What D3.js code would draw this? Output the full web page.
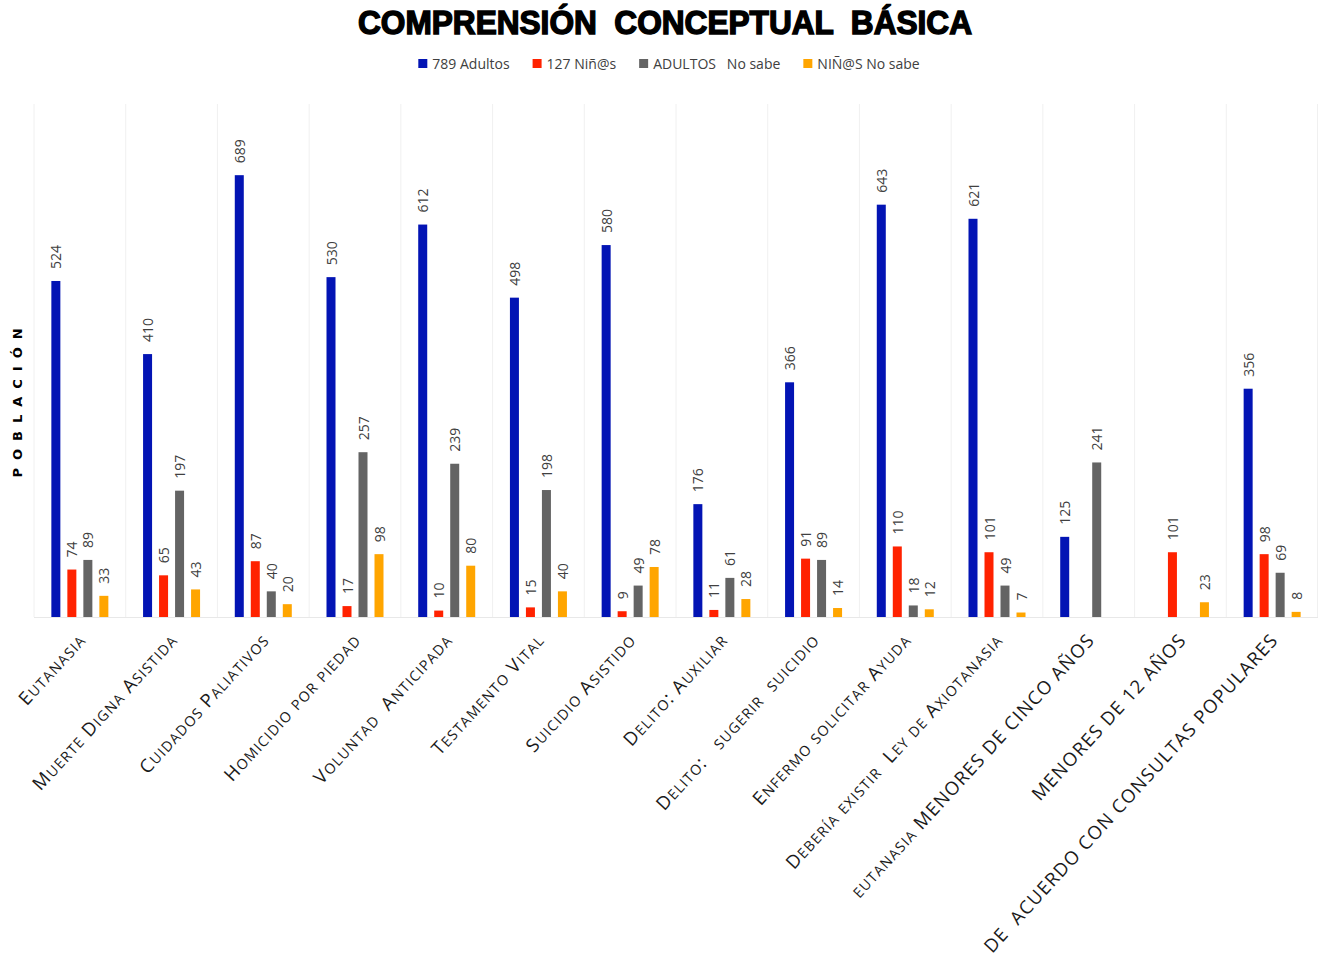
<!DOCTYPE html>
<html>
<head>
<meta charset="utf-8">
<script src="https://cdn.jsdelivr.net/npm/d3@7"></script>
<style>
  html, body { margin: 0; padding: 0; background: #ffffff; }
  svg { display: block; }
</style>
</head>
<body>
<svg id="chart" width="1318" height="962"></svg>
<script>
// Categories along the x axis (lowercase letters are drawn as small capitals)
const categories = [
  "Eutanasia",
  "Muerte Digna Asistida",
  "Cuidados Paliativos",
  "Homicidio por piedad",
  "Voluntad  Anticipada",
  "Testamento Vital",
  "Suicidio Asistido",
  "Delito: Auxiliar",
  "Delito:   sugerir  suicidio",
  "Enfermo solicitar Ayuda",
  "Debería existir  Ley de Axiotanasia",
  "eutanasia MENORES DE CINCO AÑOS",
  "MENORES DE 12 AÑOS",
  "DE  ACUERDO CON CONSULTAS POPULARES"
];

// Series values (null = no bar)
const adultos       = [524, 410, 689, 530, 612, 498, 580, 176, 366, 643, 621, 125, null, 356];
const ninos         = [74, 65, 87, 17, 10, 15, 9, 11, 91, 110, 101, null, 101, 98];
const adultosNoSabe = [89, 197, 40, 257, 239, 198, 49, 61, 89, 18, 49, 241, null, 69];
const ninosNoSabe   = [33, 43, 20, 98, 80, 40, 78, 28, 14, 12, 7, null, 23, 8];

const seriesNames  = ["789 Adultos", "127 Niñ@s", "ADULTOS   No sabe", "NIÑ@S No sabe"];
const seriesValues = [adultos, ninos, adultosNoSabe, ninosNoSabe];
const seriesColors = ["#0314b4", "#ff2200", "#646464", "#ffa500"];

const yDomain = [0, 800];

const svg = d3.select("#chart");
const plot = { left: 34, right: 1318, top: 104, bottom: 617 };

const x0 = d3.scaleBand().domain(categories).range([plot.left, plot.right]).padding(0);
const groupWidth = 57;
const x1 = d3.scaleBand().domain(d3.range(seriesNames.length)).range([0, groupWidth]).paddingInner(0.4375);
const groupOffset = (x0.bandwidth() - groupWidth) / 2;
const y = d3.scaleLinear().domain(yDomain).range([plot.bottom, plot.top]);

// Title
svg.append("text")
  .attr("x", 665).attr("y", 34)
  .attr("text-anchor", "middle")
  .attr("font-family", "'Liberation Sans', Arial, sans-serif")
  .attr("font-weight", "bold")
  .attr("font-size", 34)
  .attr("fill", "#000").attr("stroke", "#000").attr("stroke-width", 1.5)
  .attr("textLength", 614).attr("lengthAdjust", "spacingAndGlyphs")
  .style("white-space", "pre")
  .text("COMPRENSIÓN  CONCEPTUAL  BÁSICA");

// Legend
const legend = svg.append("g").attr("font-family", "'Open Sans', sans-serif").attr("font-size", 14).attr("fill", "#404040");
const items = legend.selectAll("g").data(seriesNames).join("g");
items.append("rect").attr("width", 9).attr("height", 9).attr("y", -10)
  .attr("fill", (d, i) => seriesColors[i]);
items.append("text").attr("x", 14).attr("y", 0).style("white-space", "pre").text(d => d);
let widths = [];
items.each(function() { widths.push(14 + this.querySelector("text").getComputedTextLength()); });
const gap = 23;
const totalW = d3.sum(widths) + gap * (widths.length - 1);
let cx = 669 - totalW / 2;
items.attr("transform", (d, i) => {
  const t = `translate(${cx},69)`;
  cx += widths[i] + gap;
  return t;
});

// Vertical category separators
const seps = categories.map(c => x0(c)).concat([plot.right - 0.5]);
svg.append("g").selectAll("line").data(seps).join("line")
  .attr("x1", d => d).attr("x2", d => d)
  .attr("y1", plot.top).attr("y2", plot.bottom)
  .attr("stroke", "#f0f0f0").attr("stroke-width", 1);

// Baseline
svg.append("line")
  .attr("x1", plot.left).attr("x2", plot.right)
  .attr("y1", plot.bottom + 0.5).attr("y2", plot.bottom + 0.5)
  .attr("stroke", "#e8e8e8").attr("stroke-width", 1.2);

// Bars and value labels
const flat = [];
categories.forEach((c, ci) => {
  seriesValues.forEach((vals, si) => {
    if (vals[ci] != null) flat.push({ c, si, v: vals[ci] });
  });
});

svg.append("g").selectAll("rect").data(flat).join("rect")
  .attr("x", d => x0(d.c) + groupOffset + x1(d.si))
  .attr("width", x1.bandwidth())
  .attr("y", d => y(d.v))
  .attr("height", d => y(0) - y(d.v))
  .attr("fill", d => seriesColors[d.si]);

svg.append("g").selectAll("text").data(flat).join("text")
  .attr("transform", d => {
    const bx = x0(d.c) + groupOffset + x1(d.si) + x1.bandwidth() / 2;
    return `translate(${bx},${y(d.v) - 12}) rotate(-90)`;
  })
  .attr("text-anchor", "start")
  .attr("dominant-baseline", "central")
  .attr("font-family", "'Open Sans', sans-serif")
  .attr("font-size", 14)
  .attr("fill", "#404040")
  .text(d => d.v);

// X axis with rotated small-caps labels
const xAxis = svg.append("g")
  .attr("transform", `translate(0,${plot.bottom})`)
  .call(d3.axisBottom(x0).tickSize(0));
xAxis.select(".domain").remove();
xAxis.selectAll(".tick text")
  .attr("x", null).attr("y", null).attr("dy", null)
  .attr("transform", "translate(7,24) rotate(-47.5)")
  .attr("text-anchor", "end")
  .attr("font-family", "'Open Sans', sans-serif")
  .attr("font-size", 18.5)
  .attr("letter-spacing", 1.2)
  .attr("fill", "#1a1a1a")
  .style("white-space", "pre")
  .each(function(d) {
    const t = d3.select(this).text(null);
    const runs = d.match(/[a-záéíóúüñ]+|[^a-záéíóúüñ]+/g);
    runs.forEach(r => {
      const small = /[a-záéíóúüñ]/.test(r[0]);
      t.append("tspan")
        .attr("font-size", small ? "0.77em" : null)
        .text(small ? r.toUpperCase() : r);
    });
  });

// Y axis title
svg.append("text")
  .attr("transform", "translate(22,399) rotate(-90)")
  .attr("text-anchor", "middle")
  .attr("font-family", "'DejaVu Sans', sans-serif")
  .attr("font-weight", "bold")
  .attr("font-size", 13)
  .attr("fill", "#000")
  .attr("letter-spacing", 8)
  .text("POBLACIÓN");
</script>
</body>
</html>
